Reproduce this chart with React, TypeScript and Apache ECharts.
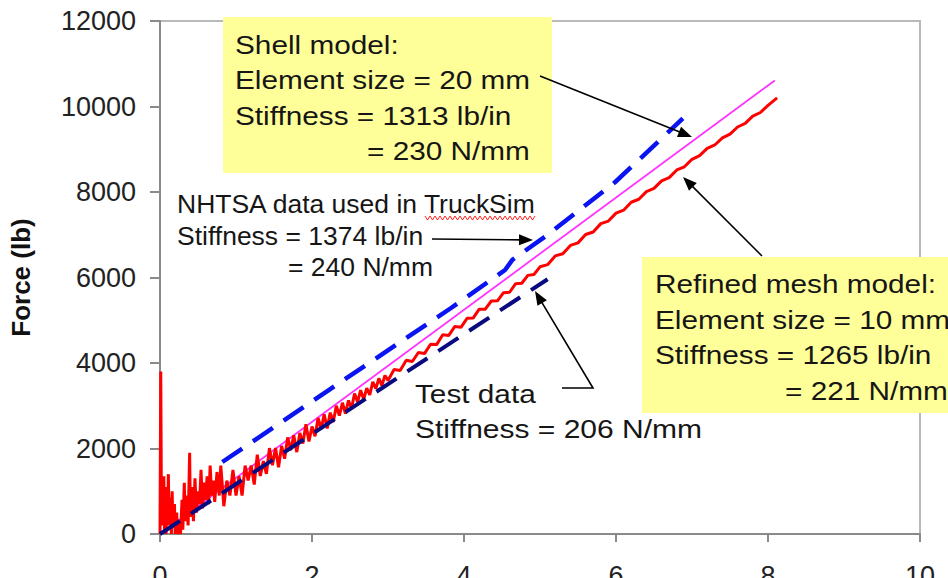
import React, { useEffect, useRef } from 'react';
import * as echarts from 'echarts';

// Axis ranges (deflection in inches, force in lb)
const xMin = 0;
const xMax = 10;
const xStep = 2;
const yMin = 0;
const yMax = 12000;
const yStep = 2000;
const yAxisTitle = 'Force (lb)';

// Shell model (element size 20 mm)
const shellModel: number[][] = [
  [0, 0],
  [8.09, 10610],
];

// NHTSA data used in TruckSim
const nhtsaData: number[][] = [
  [0.82, 1684],
  [2.24, 3390],
  [3.82, 5275],
  [4.54, 6175],
  [4.64, 6420],
  [5.07, 6960],
  [5.99, 8234],
  [6.88, 9720],
];

// Test data fit
const testFit: number[][] = [
  [0, 0],
  [5.1, 5960],
];

// Refined mesh model (element size 10 mm), raw noisy trace
const refinedMesh: number[][] = [
  [0.0, 0], [0.01, 3800], [0.02, 200], [0.03, 1000], [0.04, 300], [0.05, 1350],
  [0.06, 100], [0.07, 900], [0.08, 0], [0.09, 1100], [0.1, 400], [0.11, 1400],
  [0.12, 200], [0.13, 850], [0.15, 0], [0.16, 1000], [0.17, 150], [0.19, 700],
  [0.2, 0], [0.22, 500], [0.23, 0], [0.25, 300], [0.27, 0], [0.29, 800],
  [0.3, 100], [0.32, 1200], [0.33, 300], [0.35, 900], [0.37, 200], [0.39, 1900],
  [0.4, 400], [0.42, 1100], [0.44, 300], [0.46, 1300], [0.48, 500], [0.5, 1000],
  [0.52, 700], [0.54, 1500], [0.56, 600], [0.58, 1200], [0.6, 800], [0.62, 1350],
  [0.64, 700], [0.66, 1600], [0.68, 900], [0.7, 1250], [0.72, 750], [0.75, 1450],
  [0.78, 900], [0.8, 1600], [0.84, 650], [0.88, 1250], [0.92, 900], [0.96, 1500],
  [1.0, 900], [1.04, 1350], [1.08, 900], [1.12, 1600], [1.16, 1250], [1.2, 1600],
  [1.24, 1155], [1.28, 1855], [1.32, 1355], [1.36, 1705], [1.4, 1405], [1.44, 2010],
  [1.48, 1610], [1.52, 2010], [1.56, 1560], [1.6, 2060], [1.64, 1760], [1.68, 2260],
  [1.72, 1960], [1.76, 2310], [1.8, 1915], [1.84, 2365], [1.88, 2115], [1.92, 2565],
  [1.96, 2165], [2.0, 2515], [2.04, 2285], [2.08, 2715], [2.12, 2450], [2.16, 2800],
  [2.2, 2470], [2.24, 2840], [2.28, 2620], [2.32, 3000], [2.36, 2770], [2.4, 3070],
  [2.44, 2815], [2.48, 3125], [2.52, 2935], [2.56, 3285], [2.6, 3085], [2.64, 3365],
  [2.68, 3145], [2.72, 3415], [2.76, 3255], [2.8, 3560], [2.84, 3400], [2.88, 3640],
  [2.92, 3470], [2.96, 3710], [3.0, 3590], [3.08, 3850], [3.16, 3825], [3.24, 4065],
  [3.32, 4035], [3.4, 4245], [3.48, 4220], [3.56, 4440], [3.64, 4430], [3.72, 4660],
  [3.8, 4645], [3.88, 4855], [3.96, 4835], [4.04, 5045], [4.12, 5050], [4.2, 5260],
  [4.28, 5260], [4.36, 5450], [4.44, 5455], [4.52, 5645], [4.6, 5655], [4.68, 5855],
  [4.76, 5865], [4.84, 6050], [4.92, 6070], [5.0, 6250], [5.1, 6300], [5.2, 6505],
  [5.3, 6555], [5.4, 6750], [5.5, 6810], [5.6, 7005], [5.7, 7065], [5.8, 7260],
  [5.9, 7320], [6.0, 7505], [6.1, 7575], [6.2, 7760], [6.3, 7830], [6.4, 8010],
  [6.5, 8085], [6.6, 8260], [6.7, 8335], [6.8, 8515], [6.9, 8590], [7.0, 8765],
  [7.1, 8850], [7.2, 9020], [7.3, 9100], [7.4, 9265], [7.5, 9355], [7.6, 9520],
  [7.7, 9605], [7.8, 9775], [7.9, 9860], [8.0, 10025], [8.12, 10200],
];

// Annotation texts
const shellNote = ['Shell model:', 'Element size = 20 mm', 'Stiffness = 1313 lb/in', '= 230 N/mm'];
const nhtsaNote = ['NHTSA data used in TruckSim', 'Stiffness = 1374 lb/in', '= 240 N/mm'];
const testNote = ['Test data', 'Stiffness = 206 N/mm'];
const refinedNote = ['Refined mesh model:', 'Element size = 10 mm', 'Stiffness = 1265 lb/in', '= 221 N/mm'];

const FONT = 'Liberation Sans, Arial, sans-serif';
const TEXT_COLOR = '#161616';

function noteLine(text: string, x: number, y: number, sx: number): any {
  return {
    type: 'text',
    x,
    y,
    scaleX: sx,
    z: 110,
    style: {
      text,
      fontSize: 25,
      fontFamily: FONT,
      fill: TEXT_COLOR,
      align: 'left',
      verticalAlign: 'middle',
    },
  };
}

function arrow(points: number[][]): any[] {
  const n = points.length;
  const [tx, ty] = points[n - 1];
  const [px, py] = points[n - 2];
  const len = Math.hypot(tx - px, ty - py);
  const ux = (tx - px) / len;
  const uy = (ty - py) / len;
  const L = 14;
  const W = 5.5;
  const bx = tx - ux * L;
  const by = ty - uy * L;
  const shaft = points.slice(0, n - 1).concat([[tx - ux * L * 0.7, ty - uy * L * 0.7]]);
  return [
    {
      type: 'polyline',
      z: 110,
      shape: { points: shaft },
      style: { stroke: '#000', lineWidth: 1.6, fill: null },
    },
    {
      type: 'polygon',
      z: 110,
      shape: {
        points: [
          [tx, ty],
          [bx - uy * W, by + ux * W],
          [bx + uy * W, by - ux * W],
        ],
      },
      style: { fill: '#000' },
    },
  ];
}

// Spell-check style wavy underline
function squiggle(x0: number, x1: number, y: number): number[][] {
  const pts: number[][] = [];
  let up = true;
  for (let x = x0; x <= x1; x += 2.5) {
    pts.push([x, up ? y - 2 : y + 2]);
    up = !up;
  }
  return pts;
}

export default function App() {
  const ref = useRef<HTMLDivElement>(null);

  useEffect(() => {
    if (!ref.current) return;
    const chart = echarts.init(ref.current, undefined, { renderer: 'svg' });

    const graphic: any[] = [
      // Shell model box
      {
        type: 'rect',
        z: 100,
        shape: { x: 223, y: 17, width: 329, height: 156 },
        style: { fill: '#FFFF99' },
      },
      noteLine(shellNote[0], 235, 45, 1.19),
      noteLine(shellNote[1], 235, 80.5, 1.19),
      noteLine(shellNote[2], 235, 116, 1.19),
      noteLine(shellNote[3], 367, 151, 1.19),
      // Refined mesh box
      {
        type: 'rect',
        z: 100,
        shape: { x: 642, y: 257, width: 320, height: 156 },
        style: { fill: '#FFFF99' },
      },
      noteLine(refinedNote[0], 655, 284, 1.19),
      noteLine(refinedNote[1], 655, 320, 1.19),
      noteLine(refinedNote[2], 655, 355.5, 1.19),
      noteLine(refinedNote[3], 785, 391, 1.19),
      // NHTSA note
      noteLine(nhtsaNote[0], 177, 204, 1.06),
      noteLine(nhtsaNote[1], 177, 236, 1.06),
      noteLine(nhtsaNote[2], 288, 267, 1.06),
      {
        type: 'polyline',
        z: 110,
        shape: { points: squiggle(425, 535, 218) },
        style: { stroke: '#ff2020', lineWidth: 1, fill: null },
      },
      // Test data note
      noteLine(testNote[0], 415, 394, 1.19),
      noteLine(testNote[1], 415, 429, 1.2),
      ...arrow([[540, 76], [692, 137]]),
      ...arrow([[432, 239], [533, 240]]),
      ...arrow([[562, 388], [593, 388], [535, 291]]),
      ...arrow([[762, 256], [683, 177]]),
    ];

    chart.setOption({
      animation: false,
      grid: {
        left: 160,
        right: 28,
        top: 21,
        bottom: 44,
        containLabel: false,
        outerBoundsMode: 'none',
        show: true,
        borderColor: '#b9b9b9',
        borderWidth: 2,
        backgroundColor: '#fff',
      },
      xAxis: {
        type: 'value',
        min: xMin,
        max: xMax,
        interval: xStep,
        splitLine: { show: false },
        axisLine: { onZero: false, lineStyle: { color: '#8a8a8a', width: 2 } },
        axisTick: { inside: false, length: 8, lineStyle: { color: '#8a8a8a', width: 2 } },
        axisLabel: {
          margin: 28,
          fontSize: 27,
          fontFamily: FONT,
          color: '#222',
          formatter: (v: number) => String(v),
        },
      },
      yAxis: {
        type: 'value',
        min: yMin,
        max: yMax,
        interval: yStep,
        name: yAxisTitle,
        nameLocation: 'middle',
        nameRotate: 90,
        nameGap: 126,
        nameTextStyle: {
          fontSize: 26,
          fontWeight: 'bold',
          fontFamily: FONT,
          color: '#111',
        },
        splitLine: { show: false },
        axisLine: { show: true, lineStyle: { color: '#8a8a8a', width: 2 } },
        axisTick: { show: true, inside: false, length: 10, lineStyle: { color: '#8a8a8a', width: 2 } },
        axisLabel: {
          margin: 24,
          fontSize: 27,
          fontFamily: FONT,
          color: '#222',
          formatter: (v: number) => String(v),
        },
      },
      series: [
        {
          name: 'Shell model',
          type: 'line',
          data: shellModel,
          showSymbol: false,
          lineStyle: { color: '#ff33ff', width: 1.8 },
          z: 2,
        },
        {
          name: 'Refined mesh model',
          type: 'line',
          data: refinedMesh,
          showSymbol: false,
          lineStyle: { color: '#ff0000', width: 3 },
          z: 3,
        },
        {
          name: 'Test data',
          type: 'line',
          data: testFit,
          showSymbol: false,
          lineStyle: { color: '#0a0a80', width: 4, type: [24, 13] },
          z: 4,
        },
        {
          name: 'NHTSA data',
          type: 'line',
          data: nhtsaData,
          showSymbol: false,
          lineStyle: { color: '#0a14f0', width: 4.5, type: [24, 13] },
          z: 5,
        },
      ],
      graphic,
    });

    return () => chart.dispose();
  }, []);

  return (
    <div
      ref={ref}
      style={{ position: 'fixed', left: 0, top: 0, width: 948, height: 578, background: '#fff' }}
    />
  );
}
